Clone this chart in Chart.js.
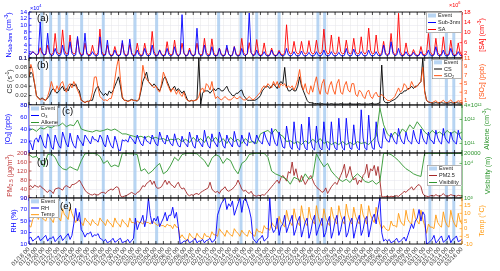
<!DOCTYPE html>
<html><head><meta charset="utf-8">
<script src="https://cdn.jsdelivr.net/npm/chart.js@4.4.1/dist/chart.umd.min.js"></script>
<style>
html,body{margin:0;padding:0;background:#fff;}
#wrap{position:relative;width:500px;height:271px;overflow:hidden;background:#fff;}
canvas{position:absolute;left:0;}
</style></head><body>
<div id="wrap"></div>
<script>
// ---------- tick labels (x) ----------
const tickLabels = ['01/18 00','01/19 00','01/20 00','01/21 00','01/22 00','01/23 00','01/24 00','01/25 00','01/26 00','01/27 00','01/28 00','01/29 00','01/30 00','01/31 00',
'02/01 00','02/02 00','02/03 00','02/04 00','02/05 00','02/06 00','02/07 00','02/08 00','02/09 00','02/10 00','02/11 00','02/12 00','02/13 00','02/14 00','02/15 00','02/16 00','02/17 00','02/18 00','02/19 00','02/20 00','02/21 00','02/22 00','02/23 00','02/24 00','02/25 00','02/26 00','02/27 00','02/28 00','02/29 00',
'03/01 00','03/02 00','03/03 00','03/04 00','03/05 00','03/06 00','03/07 00','03/08 00','03/09 00','03/10 00','03/11 00','03/12 00','03/13 00','03/14 00','03/15 00','03/16 00'];

// ---------- NPF events (days since 01/18 00) ----------
const eventStart = [1.5,2.7,3.85,4.85,6.85,9.75,14.0,16.9,25.2,28.2,30.3,33.3,38.5,39.4,53.5,55.7,56.7];
const eventEnd   = [1.9,3.1,4.25,5.25,7.25,10.15,14.4,17.3,25.6,28.6,30.7,33.7,38.9,39.8,53.9,56.1,57.1];

// ---------- series (4 values per day: 00,06,12,18 h unless noted) ----------
const nsub3 = [ // x10^4 cm^-3
1.6,1.2,2.0,1.5, 1.0,1.5,11.0,2.0, 1.0,1.2,7.6,1.5, 0.8,1.0,3.0,1.2, 0.8,1.0,4.0,1.2,
0.8,1.0,5.0,1.5, 0.8,1.0,6.6,1.5, 0.8,1.0,7.6,1.2, 0.8,0.9,2.0,1.0, 0.7,1.0,6.5,1.2,
0.8,1.0,5.5,1.2, 0.7,0.9,2.5,1.0, 0.7,1.0,5.4,1.1, 0.7,1.0,5.8,1.2, 0.7,0.9,2.5,1.0,
0.7,0.9,3.0,1.0, 0.7,1.0,4.0,1.2, 0.7,0.9,2.5,1.0, 0.7,0.9,3.0,1.0, 0.7,1.0,3.5,1.1,
0.7,1.2,13.2,1.5, 0.7,0.9,2.5,1.0, 0.8,1.0,9.1,1.3, 0.7,0.9,4.0,1.1, 0.7,0.9,3.5,1.0,
0.7,0.9,3.0,1.0, 0.7,0.9,4.0,1.1, 0.7,0.9,3.5,1.0, 0.7,0.9,3.0,1.0, 0.8,1.5,13.7,1.8,
0.8,1.0,2.5,1.0, 0.7,0.9,2.0,0.9, 0.7,0.9,2.5,1.0, 0.7,0.9,2.0,0.9, 0.7,1.0,3.0,1.0,
0.7,0.9,2.0,0.9, 0.7,0.9,2.2,0.9, 0.7,0.9,1.8,0.9, 0.7,0.9,2.0,0.9, 0.7,1.0,2.5,1.0,
0.7,0.9,2.0,0.9, 0.7,0.9,1.8,0.9, 0.7,0.9,3.0,1.0, 0.7,0.9,2.8,1.0, 0.7,0.9,2.0,0.9,
0.7,0.9,2.5,1.0, 0.7,0.9,2.0,0.9, 0.8,1.0,4.0,1.2, 0.8,1.2,5.0,1.5, 0.8,1.0,3.0,1.0,
0.7,0.9,2.0,0.9, 0.7,0.9,1.8,0.9, 0.7,0.9,2.0,0.9, 0.7,1.0,2.5,1.0, 0.7,1.0,3.5,1.0,
0.7,0.9,2.5,0.9, 0.7,1.0,3.0,1.0, 0.7,0.9,2.0,0.9,
0.8];
const sa = [ // x10^6 cm^-3
1.5,1.5,2.5,1.8, 1.2,1.5,4.0,1.8, 1.2,1.5,5.0,2.0, 1.2,2.0,9.6,2.5, 1.5,2.0,11.0,3.0,
1.5,2.0,9.0,2.5, 1.5,2.0,7.7,2.5, 1.2,1.5,5.8,2.0, 1.2,1.5,5.0,2.0, 1.2,2.0,11.3,2.5,
1.2,1.5,5.0,2.0, 1.0,1.5,4.5,1.8, 1.0,1.5,5.8,2.0, 1.0,1.5,5.2,2.0, 1.0,1.5,5.8,2.0,
1.0,1.5,5.8,2.0, 1.2,2.0,10.4,2.5, 1.0,1.2,3.2,1.5, 1.0,1.5,6.4,2.0, 1.2,1.5,7.0,2.0,
1.0,1.5,5.8,2.0, 1.0,1.2,3.9,1.5, 1.0,1.5,5.8,2.0, 1.2,1.5,7.7,2.2, 1.2,1.5,7.5,2.0,
1.0,1.2,3.9,1.5, 1.0,1.2,3.9,1.5, 1.0,1.2,4.5,1.5, 1.0,1.5,7.7,2.0, 1.2,1.5,6.0,2.0,
1.2,1.5,7.2,2.0, 1.0,1.5,5.9,1.8, 1.0,1.2,3.9,1.5, 1.0,1.2,3.0,1.5, 1.2,2.0,13.0,3.0,
1.5,2.0,6.5,2.5, 1.5,2.0,6.5,2.5, 1.5,2.0,6.8,2.5, 1.5,2.0,7.0,2.5, 1.5,2.5,11.3,3.0,
1.5,2.0,9.0,2.5, 1.5,2.0,8.3,2.5, 1.5,2.0,7.0,2.5, 1.5,2.0,7.7,2.5, 1.5,2.0,8.3,2.5,
1.5,2.5,11.7,3.0, 1.5,2.0,9.0,2.5, 1.2,2.0,6.5,2.0, 1.2,2.0,9.6,2.5, 1.2,2.0,17.5,2.5,
1.0,1.5,5.9,2.0, 1.0,1.2,3.3,1.5, 1.0,1.2,4.5,1.5, 1.2,2.0,9.6,2.5, 1.2,1.5,7.7,2.0,
1.2,1.5,8.3,2.0, 1.2,1.5,7.0,2.0, 1.0,1.5,5.9,1.8,
1.2];
const cs = [ // s^-1
0.060,0.070,0.065,0.045, 0.020,0.015,0.012,0.015, 0.012,0.010,0.015,0.020, 0.030,0.035,0.030,0.025, 0.030,0.035,0.040,0.030,
0.035,0.030,0.040,0.045, 0.040,0.045,0.035,0.030, 0.010,0.008,0.005,0.008, 0.008,0.010,0.010,0.025, 0.035,0.040,0.030,0.025,
0.020,0.025,0.020,0.030, 0.025,0.030,0.040,0.050, 0.060,0.040,0.015,0.010, 0.010,0.008,0.010,0.012, 0.010,0.010,0.008,0.012,
0.030,0.050,0.060,0.070, 0.050,0.045,0.040,0.045, 0.040,0.035,0.030,0.040, 0.055,0.060,0.050,0.040, 0.030,0.035,0.040,0.030,
0.035,0.030,0.025,0.030, 0.020,0.010,0.008,0.010, 0.008,0.010,0.012,0.100, 0.002,0.025,0.030,0.030, 0.030,0.025,0.030,0.035,
0.030,0.035,0.035,0.030, 0.030,0.035,0.040,0.030, 0.025,0.020,0.020,0.025, 0.025,0.030,0.032,0.020, 0.015,0.010,0.010,0.010,
0.010,0.010,0.012,0.015, 0.020,0.030,0.035,0.040, 0.040,0.035,0.040,0.045, 0.040,0.035,0.045,0.050, 0.045,0.080,0.040,0.030,
0.030,0.035,0.030,0.030, 0.040,0.060,0.040,0.030, 0.020,0.010,0.005,0.005, 0.004,0.003,0.003,0.003, 0.002,0.003,0.002,0.002,
0.002,0.002,0.003,0.002, 0.002,0.002,0.002,0.003, 0.002,0.002,0.002,0.002, 0.003,0.002,0.002,0.002, 0.002,0.003,0.002,0.002,
0.002,0.002,0.002,0.003, 0.003,0.002,0.002,0.003, 0.005,0.085,0.010,0.005, 0.005,0.005,0.008,0.010, 0.012,0.015,0.020,0.025,
0.025,0.030,0.030,0.035, 0.035,0.040,0.035,0.040, 0.040,0.045,0.050,0.100, 0.030,0.010,0.006,0.005, 0.004,0.004,0.005,0.004,
0.004,0.005,0.004,0.004, 0.004,0.004,0.005,0.004, 0.004,0.005,0.004,0.004,
0.004];
const so2 = [ // ppb
6.6,9.5,8.0,5.0, 2.2,1.5,1.2,1.5, 1.2,1.1,2.0,3.5, 5.5,4.0,3.0,4.5, 3.5,5.0,5.5,4.0,
3.0,4.5,5.0,4.0, 5.5,4.5,3.5,2.5, 1.1,0.8,0.6,0.8, 0.8,1.1,3.0,6.5, 6.6,4.0,2.0,1.5,
1.1,1.2,1.0,1.5, 1.5,3.0,6.0,9.0, 11.0,6.0,2.0,1.1, 1.0,0.8,1.0,1.2, 1.1,1.0,1.0,1.5,
4.0,9.3,7.0,6.0, 5.5,5.0,4.5,4.0, 4.5,3.5,3.0,5.0, 7.7,6.5,5.0,4.0, 3.0,4.0,3.5,2.5,
3.5,2.5,2.0,3.0, 1.5,1.1,0.9,1.0, 1.0,1.1,1.2,2.0, 3.5,4.0,3.0,5.0, 4.5,3.5,5.5,3.0,
1.5,2.0,1.5,1.2, 1.5,2.0,1.5,1.2, 1.2,1.5,2.0,1.5, 1.5,2.0,1.5,1.2, 1.2,1.5,2.0,1.5,
1.2,1.5,2.0,2.5, 3.0,4.0,4.5,4.0, 5.0,4.5,4.0,5.5, 4.5,5.5,4.0,5.0, 4.5,5.0,4.0,4.5,
4.0,4.5,3.5,4.5, 6.0,8.3,5.0,3.5, 5.0,3.0,2.5,4.5, 3.0,5.0,6.6,4.0, 2.5,5.0,6.0,3.0,
2.5,4.5,5.5,3.5, 2.5,5.0,6.0,3.0, 2.5,4.5,5.5,3.5, 3.0,5.0,5.0,2.5, 2.0,3.5,3.0,2.0,
1.5,3.0,3.5,2.0, 1.5,2.5,3.0,2.0, 2.0,2.5,2.0,1.5, 1.1,1.0,1.2,1.5, 2.0,3.0,4.0,3.0,
3.5,5.0,4.5,3.5, 4.0,5.5,4.5,4.0, 4.5,5.0,5.5,8.8, 3.0,1.1,0.8,0.6, 0.5,0.8,1.0,0.6,
0.5,0.8,1.1,0.6, 0.5,0.8,1.2,0.6, 0.5,0.7,1.0,0.6,
0.5];
const o3 = [ // ppb
20,15,5,22, 25,18,30,22, 12,8,32,25, 10,6,30,20, 12,8,35,25,
15,10,33,20, 12,8,30,22, 18,12,30,25, 20,15,28,22, 22,18,30,25,
15,10,30,20, 12,8,28,18, 5,4,22,20, 22,18,28,24, 20,15,30,22,
15,12,28,20, 18,15,30,22, 15,12,35,25, 18,15,30,22, 15,12,32,20,
12,10,28,18, 15,10,35,22, 12,8,30,20, 15,10,38,22, 12,8,32,20,
15,10,35,25, 12,8,30,20, 15,10,36,22, 12,10,30,20, 15,12,34,22,
18,15,30,22, 18,15,35,25, 18,12,41,25, 15,12,35,22, 10,8,45,25,
10,6,52,20, 8,5,48,18, 8,5,60,20, 8,5,45,18, 8,5,52,20,
8,5,52,18, 8,5,58,20, 8,5,58,22, 8,6,47,18, 8,5,72,25,
8,5,63,22, 8,6,52,20, 10,8,41,25, 20,18,33,25, 18,15,41,25,
18,15,35,22, 18,15,38,25, 18,15,40,25, 18,15,35,22, 20,15,38,25,
18,15,41,25, 20,16,35,22, 18,15,38,25,
22];
const alkene1e11 = [ // x10^11 cm^-3, 2 values per day (00,12 h)
3.5,4.0, 3.2,4.5, 4.0,5.0, 4.5,5.5, 5.5,7.0,
5.0,6.0, 5.5,9.5, 4.0,3.5, 3.2,3.0, 3.5,3.2,
3.5,4.0, 3.5,4.0, 3.2,2.5, 2.5,2.2, 2.0,1.8,
2.0,1.7, 2.0,1.6, 1.8,1.5, 1.6,1.3, 1.5,1.4,
1.6,1.2, 1.5,1.1, 1.8,1.2, 1.6,1.1, 2.0,1.2,
1.8,1.1, 1.6,1.0, 1.8,1.2, 1.5,1.0, 1.6,1.1,
1.2,1.0, 2.5,3.0, 3.5,2.5, 4.0,2.5, 2.0,1.2,
1.3,1.0, 1.2,0.9, 1.3,1.0, 1.5,1.1, 1.6,1.0,
1.2,0.9, 1.1,0.9, 1.2,0.9, 1.1,0.9, 1.2,1.0,
1.1,0.9, 1.3,2.0, 30,6.0, 2.5,1.8, 3.0,2.0,
4.0,3.0, 6.0,4.0, 8.0,5.0, 3.0,2.2, 3.5,2.5,
3.0,2.2, 3.5,2.5, 3.2,2.4,
3.0];
const pm25 = [ // ug/m3
50,55,45,57, 52,48,55,45, 40,30,25,35, 30,20,40,43, 45,40,35,50,
55,50,45,60, 60,65,70,80, 65,50,35,25, 20,15,13,18, 15,13,20,25,
25,20,30,35, 40,35,45,50, 45,10,5,8, 10,15,20,25, 20,15,25,28,
40,55,50,65, 70,80,60,75, 50,43,45,50, 65,80,60,75, 60,55,45,60,
70,50,40,45, 30,15,10,15, 12,18,20,15, 25,30,35,40, 45,70,40,30,
25,30,20,35, 40,50,35,30, 35,40,50,60, 80,60,40,30, 35,25,20,30,
15,10,8,12, 10,15,12,20, 30,40,50,60, 70,80,65,90, 100,90,75,117,
110,160,100,130, 90,70,100,80, 60,75,90,100, 80,60,50,40, 35,25,30,45,
20,35,50,60, 70,60,80,100, 120,150,90,110, 140,100,80,90, 60,80,70,100,
110,150,90,130, 120,145,100,140, 80,5,5,6, 7,5,8,6, 8,10,7,15,
20,30,25,35, 40,50,35,45, 55,60,50,20, 10,8,6,10, 12,8,15,10,
8,12,20,10, 8,10,15,12, 10,8,12,10,
10];
const visibility = [ // m, 2 values per day (00,12 h)
18000,15000, 16000,12000, 8000,18000, 19000,15000, 9000,7000,
6500,8000, 7000,6300, 12000,19000, 19500,19500, 19000,16000,
10000,12000, 8000,9000, 8000,19500, 19500,19000, 19000,18000,
6000,7000, 5000,6000, 8000,10000, 5000,6000, 9000,15000,
12000,18000, 19500,19500, 19500,19000, 15000,12000, 8000,14000,
18000,16000, 10000,14000, 12000,7000, 5000,10000, 12000,18000,
19500,19500, 19500,19500, 15000,6000, 5000,4500, 4000,3500,
2500,4000, 3500,3000, 5000,3500, 4000,19000, 12000,8000,
10000,6000, 4500,3500, 3000,3500, 2800,4000, 5000,4000,
3000,2800, 3200,2500, 3000,19500, 19500,18000, 15000,12000,
9000,7000, 6000,5000, 4500,4200, 19500,19500, 19500,19500,
19500,19500, 19500,19500, 19500,19500,
19500];
const rh = [ // %
20,22,15,18, 20,24,16,18, 22,25,15,20, 20,23,14,18, 22,25,16,20,
24,28,18,25, 45,72,50,65, 35,30,22,28, 28,31,22,26, 25,28,20,18,
15,18,12,14, 16,20,13,15, 18,20,12,14, 15,18,12,16, 20,55,35,45,
50,60,40,55, 90,60,45,55, 50,58,40,48, 55,65,50,60, 60,74,55,65,
40,10,12,15, 15,18,12,14, 16,20,12,15, 15,18,12,16, 17,20,13,15,
20,60,70,80, 85,90,70,80, 75,85,60,70, 80,90,65,85, 90,80,70,55,
20,15,12,18, 20,25,15,18, 22,90,40,30, 35,55,25,40, 45,60,30,40,
50,60,25,35, 50,58,22,35, 48,55,20,32, 50,60,25,35, 45,55,22,30,
48,58,20,32, 50,60,25,35, 52,58,22,30, 48,55,20,35, 50,60,25,35,
52,58,22,38, 55,62,45,70, 90,30,15,18, 15,18,12,14, 16,20,13,15,
18,22,15,25, 35,45,37,50, 55,70,50,66, 60,10,12,15, 18,25,12,15,
20,24,13,16, 18,25,12,18, 20,24,14,16,
18];
const temp = [ // deg C
2,1,6,8, 9,6,10,7, 6,5,9,7, 6,4,10,8, 7,5,13,9,
8,6,14,10, 7,4,7,5, 4,2,7,5, 4,2,6,4, 3,2,7,5,
4,2,6,4, 3,1,7,4, 3,1,6,4, 3,1,7,4, 4,3,5,4,
4,3,5,4, 4,3,5,4, 3,2,3,2, 2,1,3,2, 2,0,3,1,
1,-6,-4,-6, -7,-8,-3,-5, -6,-7,-3,-5, -6,-7,-3,-5, -5,-6,-2,-4,
-4,-5,0,-2, -3,-5,-1,-3, -4,-5,0,-2, -3,-5,-1,-3, -4,-5,-1,-3,
-4,-5,0,-2, -2,-3,2,0, 0,-1,4,2, 1,0,8,4, 3,1,12,6,
4,2,13,7, 4,2,15,8, 4,2,14,7, 5,3,15,8, 4,2,13,7,
4,2,14,8, 5,3,15,9, 5,3,16,9, 5,3,14,8, 5,3,16,9,
6,3,15,9, 6,4,14,8, 3,0,2,0, -1,-1,5,2, 2,1,10,5,
3,2,12,6, 4,3,13,7, 5,3,12,6, 2,-3,3,1, 1,0,9,4,
2,1,11,5, 2,1,12,6, 3,1,10,5,
3];

// ---------- y tick values / labels ----------
const nsubTicks = [0.1,2,4,6,8,10,12,14], nsubTickLabels = ['0.1','2','4','6','8','10','12','14'];
const saTicks = [2,6,10,14,18], saTickLabels = ['2','6','10','14','18'];
const csTicks = [0,0.02,0.04,0.06,0.08,0.1], csTickLabels = ['0','0.02','0.04','0.06','0.08','0.1'];
const so2Ticks = [1,3,5,7,9,11], so2TickLabels = ['1','3','5','7','9','11'];
const o3Ticks = [0,20,40,60,80], o3TickLabels = ['0','20','40','60','80'];
const alkeneTicks = [1e11,1e12,4e12], alkeneTickLabels = ['10\u00B9\u00B9','10\u00B9\u00B2','4\u00D710\u00B9\u00B2'];
const pmTicks = [0,40,80,120,160,200], pmTickLabels = ['0','40','80','120','160','200'];
const visTicks = [1000,10000,20000], visTickLabels = ['10\u00B3','10\u2074','20000'];
const rhTicks = [10,30,50,70,90], rhTickLabels = ['10','30','50','70','90'];
const tempTicks = [-10,-5,0,5,10,15], tempTickLabels = ['-10','-5','0','5','10','15'];

// ---------- styling ----------
const FONT = "'Liberation Sans', Arial, sans-serif";
Chart.defaults.font.family = FONT;
const EVENT_COLOR = 'rgba(166,203,240,0.8)';
const BLUE = '#0000ff', RED = '#ff0000', BLACK = '#000000', SO2C = '#ff5010',
      GREEN = '#2f962f', PMC = '#a52828', ORANGE = '#ff9a10';

function xy(arr, perDay, scale) { return arr.map((v, i) => ({x: i / perDay, y: scale ? v * scale : v})); }

function fontStr(s, size) { return ((s.sub || s.sup) ? size * 0.7 : size) + 'px ' + FONT; }
function drawRich(ctx, segs, x, y, size, color, rotate, align) {
  ctx.save();
  ctx.translate(x, y);
  if (rotate) ctx.rotate(-Math.PI / 2);
  let w = 0;
  for (const s of segs) { ctx.font = fontStr(s, size); w += ctx.measureText(s.t).width; }
  let cx = align === 'center' ? -w / 2 : 0;
  ctx.fillStyle = color; ctx.textBaseline = 'middle'; ctx.textAlign = 'left';
  for (const s of segs) {
    ctx.font = fontStr(s, size);
    const dy = s.sub ? size * 0.3 : (s.sup ? -size * 0.38 : 0);
    ctx.fillText(s.t, cx, dy);
    cx += ctx.measureText(s.t).width;
  }
  ctx.restore();
}

const panels = [
 {id:'a', top:0, height:63, padTop:12, padBottom:5, showX:false,
  left:{min:0.1, max:14, ticks:nsubTicks, labels:nsubTickLabels, color:BLUE, spine:BLUE},
  right:{min:0, max:18, ticks:saTicks, labels:saTickLabels, color:RED, spine:RED},
  series:[{data:xy(nsub3,4), axis:'yL', color:BLUE, order:0}, {data:xy(sa,4), axis:'yR', color:RED, order:1}],
  leftTitle:{segs:[{t:'N'},{t:'Sub-3nm',sub:1},{t:' (cm'},{t:'-3',sup:1},{t:')'}], x:9, color:BLUE},
  rightTitle:{segs:[{t:'[SA] (cm'},{t:'-3',sup:1},{t:')'}], x:482, color:RED},
  legend:{x:426, y:12, w:36, h:21, items:[{kind:'box', segs:[{t:'Event'}]}, {kind:'line', color:BLUE, segs:[{t:'Sub-3nm'}]}, {kind:'line', color:RED, segs:[{t:'SA'}]}]},
  label:{text:'(a)', x:37, y:18},
  extra:[{segs:[{t:'\u00D710'},{t:'4',sup:1}], x:30, y:8, color:BLUE}, {segs:[{t:'\u00D710'},{t:'6',sup:1}], x:449, y:5, color:RED}]
 },
 {id:'b', top:53, height:57, padTop:5, padBottom:5, showX:false,
  left:{min:0, max:0.1, ticks:csTicks, labels:csTickLabels, color:'#333333', spine:BLACK},
  right:{min:0, max:11, ticks:so2Ticks, labels:so2TickLabels, color:SO2C, spine:SO2C},
  series:[{data:xy(so2,4), axis:'yR', color:SO2C, order:0}, {data:xy(cs,4), axis:'yL', color:BLACK, order:1}],
  leftTitle:{segs:[{t:'CS (s'},{t:'-1',sup:1},{t:')'}], x:10, color:'#333333'},
  rightTitle:{segs:[{t:'[SO'},{t:'2',sub:1},{t:'] (ppb)'}], x:482, color:SO2C},
  legend:{x:432, y:59, w:30, h:20, items:[{kind:'box', segs:[{t:'Event'}]}, {kind:'line', color:BLACK, segs:[{t:'CS'}]}, {kind:'line', color:SO2C, segs:[{t:'SO'},{t:'2',sub:1}]}]},
  label:{text:'(b)', x:37, y:65},
  extra:[]
 },
 {id:'c', top:100, height:58, padTop:5, padBottom:5, showX:false,
  left:{min:0, max:80, ticks:o3Ticks, labels:o3TickLabels, color:BLUE, spine:BLUE},
  right:{type:'logarithmic', min:4e10, max:4e12, ticks:alkeneTicks, labels:alkeneTickLabels, color:GREEN, spine:GREEN},
  series:[{data:xy(o3,4), axis:'yL', color:BLUE, order:0}, {data:xy(alkene1e11,2,1e11), axis:'yR', color:GREEN, order:1}],
  leftTitle:{segs:[{t:'[O'},{t:'3',sub:1},{t:'] (ppb)'}], x:8, color:BLUE},
  rightTitle:{segs:[{t:'Alkene (cm'},{t:'-3',sup:1},{t:')'}], x:487, color:GREEN},
  legend:{x:29, y:105, w:29, h:21, items:[{kind:'box', segs:[{t:'Event'}]}, {kind:'line', color:BLUE, segs:[{t:'O'},{t:'3',sub:1}]}, {kind:'line', color:GREEN, segs:[{t:'Alkene'}]}]},
  label:{text:'(c)', x:62, y:111},
  extra:[]
 },
 {id:'d', top:148, height:55, padTop:5, padBottom:5, showX:false,
  left:{min:0, max:200, ticks:pmTicks, labels:pmTickLabels, color:'#c03a3a', spine:PMC},
  right:{type:'logarithmic', min:1000, max:20000, ticks:visTicks, labels:visTickLabels, color:GREEN, spine:GREEN},
  series:[{data:xy(visibility,2), axis:'yR', color:GREEN, order:0}, {data:xy(pm25,4), axis:'yL', color:PMC, order:1}],
  leftTitle:{segs:[{t:'PM'},{t:'2.5',sub:1},{t:' (\u03BCg/m'},{t:'3',sup:1},{t:')'}], x:10, color:'#c03a3a'},
  rightTitle:{segs:[{t:'Visibility (m)'}], x:488, color:GREEN},
  legend:{x:427, y:165, w:35, h:21, items:[{kind:'box', segs:[{t:'Event'}]}, {kind:'line', color:PMC, segs:[{t:'PM2.5'}]}, {kind:'line', color:GREEN, segs:[{t:'Visibility'}]}]},
  label:{text:'(d)', x:37, y:162},
  extra:[]
 },
 {id:'e', top:193, height:78, padTop:5, padBottom:0, showX:true,
  left:{min:10, max:90, ticks:rhTicks, labels:rhTickLabels, color:BLUE, spine:BLUE},
  right:{min:-10, max:20, ticks:tempTicks, labels:tempTickLabels, color:ORANGE, spine:ORANGE},
  series:[{data:xy(rh,4), axis:'yL', color:BLUE, order:0}, {data:xy(temp,4), axis:'yR', color:ORANGE, order:1}],
  leftTitle:{segs:[{t:'RH (%)'}], x:14, color:BLUE},
  rightTitle:{segs:[{t:'Temp (\u00B0C)'}], x:482, color:ORANGE},
  legend:{x:29, y:198, w:30, h:20, items:[{kind:'box', segs:[{t:'Event'}]}, {kind:'line', color:BLUE, segs:[{t:'RH'}]}, {kind:'line', color:ORANGE, segs:[{t:'Temp'}]}]},
  label:{text:'(e)', x:60, y:206},
  extra:[]
 }
];

function makeAxis(pos, ax) {
  return {
    type: ax.type || 'linear', position: pos, min: ax.min, max: ax.max, bounds: 'data',
    afterBuildTicks: s => { s.ticks = ax.ticks.map(v => ({value: v})); },
    afterFit: s => { s.width = pos === 'left' ? 29 : 38; s.paddingTop = 0; s.paddingBottom = 0; },
    ticks: {color: ax.color, font: {size: 6, family: FONT}, padding: 2, autoSkip: false,
            callback: (v, i) => ax.labels[i]},
    grid: {display: pos === 'left', color: '#e2e2ec', lineWidth: 0.5, drawTicks: false},
    border: {display: false}
  };
}

function panelPlugin(p) {
  return {
    id: 'panel_' + p.id,
    beforeDatasetsDraw(chart) {
      const ctx = chart.ctx, a = chart.chartArea, xs = chart.scales.x;
      ctx.save();
      ctx.beginPath(); ctx.rect(a.left, a.top, a.right - a.left, a.bottom - a.top); ctx.clip();
      ctx.fillStyle = EVENT_COLOR;
      for (let k = 0; k < eventStart.length; k++) {
        const x1 = xs.getPixelForValue(eventStart[k]), x2 = xs.getPixelForValue(eventEnd[k]);
        ctx.fillRect(x1, a.top, x2 - x1, a.bottom - a.top);
      }
      ctx.restore();
    },
    afterDraw(chart) {
      const ctx = chart.ctx, a = chart.chartArea, xs = chart.scales.x, yl = chart.scales.yL, yr = chart.scales.yR;
      const T = p.top;
      ctx.save();
      // day ticks (inward, top and bottom)
      ctx.strokeStyle = '#000'; ctx.lineWidth = 0.7;
      ctx.beginPath();
      for (let i = 0; i < tickLabels.length; i++) {
        const px = xs.getPixelForValue(i);
        ctx.moveTo(px, a.top); ctx.lineTo(px, a.top + 3);
        ctx.moveTo(px, a.bottom); ctx.lineTo(px, a.bottom - 3);
      }
      ctx.stroke();
      // y ticks inward
      ctx.strokeStyle = p.left.spine; ctx.beginPath();
      p.left.ticks.forEach(v => { const py = yl.getPixelForValue(v); ctx.moveTo(a.left, py); ctx.lineTo(a.left + 2.5, py); });
      ctx.stroke();
      ctx.strokeStyle = p.right.spine; ctx.beginPath();
      p.right.ticks.forEach(v => { const py = yr.getPixelForValue(v); ctx.moveTo(a.right, py); ctx.lineTo(a.right - 2.5, py); });
      ctx.stroke();
      // frame
      ctx.lineWidth = 0.9;
      ctx.strokeStyle = '#000';
      ctx.beginPath(); ctx.moveTo(a.left, a.top); ctx.lineTo(a.right, a.top);
      ctx.moveTo(a.left, a.bottom); ctx.lineTo(a.right, a.bottom); ctx.stroke();
      ctx.strokeStyle = p.left.spine; ctx.beginPath(); ctx.moveTo(a.left, a.top); ctx.lineTo(a.left, a.bottom); ctx.stroke();
      ctx.strokeStyle = p.right.spine; ctx.beginPath(); ctx.moveTo(a.right, a.top); ctx.lineTo(a.right, a.bottom); ctx.stroke();
      // legend
      const lg = p.legend, ly = lg.y - T;
      ctx.fillStyle = '#fff'; ctx.fillRect(lg.x, ly, lg.w, lg.h);
      ctx.strokeStyle = '#808080'; ctx.lineWidth = 0.6; ctx.strokeRect(lg.x + 0.3, ly + 0.3, lg.w - 0.6, lg.h - 0.6);
      lg.items.forEach((it, k) => {
        const cy = ly + lg.h / 6 + k * lg.h / 3;
        if (it.kind === 'box') { ctx.fillStyle = EVENT_COLOR; ctx.fillRect(lg.x + 2, cy - 2, 8, 4); }
        else { ctx.strokeStyle = it.color; ctx.lineWidth = 1; ctx.beginPath(); ctx.moveTo(lg.x + 2, cy); ctx.lineTo(lg.x + 10, cy); ctx.stroke(); }
        drawRich(ctx, it.segs, lg.x + 12, cy, 5.5, '#222', false, 'left');
      });
      // panel label
      drawRich(ctx, [{t: p.label.text}], p.label.x, p.label.y - T, 9.5, '#000', false, 'left');
      // axis titles
      const cyMid = (a.top + a.bottom) / 2;
      drawRich(ctx, p.leftTitle.segs, p.leftTitle.x, cyMid, 7, p.leftTitle.color, true, 'center');
      drawRich(ctx, p.rightTitle.segs, p.rightTitle.x, cyMid, 7, p.rightTitle.color, true, 'center');
      p.extra.forEach(e => drawRich(ctx, e.segs, e.x, e.y - T, 5.5, e.color, false, 'left'));
      ctx.restore();
    }
  };
}

const wrap = document.getElementById('wrap');
panels.forEach(p => {
  const c = document.createElement('canvas');
  c.width = 500; c.height = p.height;
  c.style.top = p.top + 'px'; c.style.width = '500px'; c.style.height = p.height + 'px';
  wrap.appendChild(c);
  new Chart(c, {
    type: 'line',
    data: {datasets: p.series.map(s => ({data: s.data, yAxisID: s.axis, borderColor: s.color, backgroundColor: s.color,
      borderWidth: 0.9, pointRadius: 0, tension: 0, clip: 0, order: s.order}))},
    options: {
      responsive: false, animation: false, events: [],
      layout: {padding: {top: p.padTop, bottom: p.padBottom, left: 0, right: 0}},
      plugins: {legend: {display: false}, tooltip: {enabled: false}},
      scales: {
        x: {type: 'linear', min: 0, max: tickLabels.length - 1, bounds: 'data',
            afterBuildTicks: s => { s.ticks = tickLabels.map((_, i) => ({value: i})); },
            afterFit: s => { s.height = p.showX ? 27 : 0; s.paddingLeft = 0; s.paddingRight = 0; },
            ticks: {display: p.showX, autoSkip: false, minRotation: 45, maxRotation: 45, padding: 2,
                    color: '#333', font: {size: 6, family: FONT}, callback: (v, i) => tickLabels[i]},
            grid: {color: '#e4e4e4', lineWidth: 0.5, drawTicks: false},
            border: {display: false}},
        yL: makeAxis('left', p.left),
        yR: makeAxis('right', p.right)
      }
    },
    plugins: [panelPlugin(p)]
  });
});
</script>
</body></html>
